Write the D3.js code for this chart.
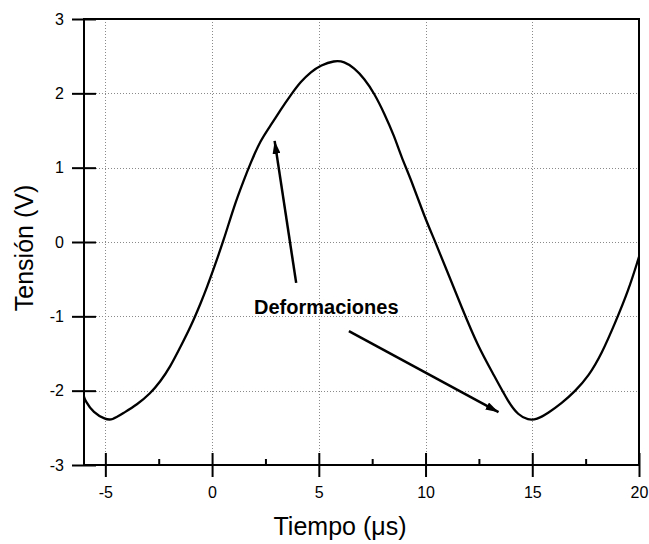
<!DOCTYPE html>
<html>
<head>
<meta charset="utf-8">
<script src="https://cdn.jsdelivr.net/npm/d3@7"></script>
<style>
  html, body { margin: 0; padding: 0; background: #fff; }
  svg { display: block; }
  text { font-family: "Liberation Sans", Arial, sans-serif; fill: #000; }
</style>
</head>
<body>
<script>
// ---- data ----
const timeUs = [-6.0, -5.95, -5.56, -5.0, -4.70, -4.15, -3.52, -2.90, -2.43, -1.96, -1.5, -1.0, -0.5, -0.23, 0.0, 0.55, 1.02, 1.49, 1.80, 2.27, 2.75, 3.21, 3.69, 4.16, 4.63, 5.10, 5.72, 6.19, 6.66, 7.13, 7.60, 8.07, 8.54, 8.86, 9.33, 9.95, 10.42, 11.05, 11.68, 12.46, 13.24, 13.87, 14.34, 14.81, 15.20, 15.75, 16.38, 17.0, 17.63, 18.26, 18.88, 19.51, 20.0];
const voltageV = [-2.08, -2.13, -2.30, -2.385, -2.40, -2.30, -2.19, -2.04, -1.88, -1.68, -1.42, -1.14, -0.80, -0.60, -0.42, 0.027, 0.475, 0.834, 1.06, 1.37, 1.57, 1.78, 1.98, 2.16, 2.29, 2.38, 2.44, 2.43, 2.34, 2.20, 2.00, 1.73, 1.42, 1.15, 0.834, 0.34, 0.027, -0.42, -0.87, -1.41, -1.81, -2.15, -2.33, -2.395, -2.39, -2.30, -2.17, -2.01, -1.81, -1.50, -1.09, -0.65, -0.20];
const xTicks = [-5, 0, 5, 10, 15, 20];
const xMinorTicks = [-2.5, 2.5, 7.5, 12.5, 17.5];
const yTicks = [-3, -2, -1, 0, 1, 2, 3];
const xTitle = "Tiempo (\u03bcs)";
const yTitle = "Tensión (V)";
const annotationText = "Deformaciones";
// annotation arrows in data units: [fromX, fromY, toX, toY]
const arrows = [
  [3.94, -0.55, 2.93, 1.36],
  [6.41, -1.20, 13.42, -2.29]
];
const annotationPos = [5.35, -0.97];

// ---- layout ----
const W = 649, H = 544;
const mLeft = 84, mRight = 639, mTop = 19, mBottom = 465;
const fmt = d => String(d);

const svg = d3.select("body").append("svg")
  .attr("width", W).attr("height", H);

const x = d3.scaleLinear().domain([-6, 20]).range([mLeft, mRight]);
const y = d3.scaleLinear().domain([-3, 3]).range([mBottom, mTop]);

// grid
const grid = svg.append("g").attr("stroke", "#8a8a8a").attr("stroke-width", 1)
  .attr("stroke-dasharray", "1,2");
grid.selectAll("line.vx").data(xTicks.filter(d => d < 20)).join("line")
  .attr("class", "vx")
  .attr("x1", d => Math.round(x(d)) + 0.5).attr("x2", d => Math.round(x(d)) + 0.5)
  .attr("y1", mTop).attr("y2", mBottom);
grid.selectAll("line.hy").data(yTicks.filter(d => d > -3 && d < 3)).join("line")
  .attr("class", "hy")
  .attr("y1", d => Math.round(y(d)) + 0.5).attr("y2", d => Math.round(y(d)) + 0.5)
  .attr("x1", mLeft).attr("x2", mRight);

// curve
const line = d3.line().x((d, i) => x(timeUs[i])).y(d => y(d)).curve(d3.curveBasis);
svg.append("path").datum(voltageV)
  .attr("d", line).attr("fill", "none").attr("stroke", "#000")
  .attr("stroke-width", 2.3).attr("stroke-linejoin", "round");

// frame
svg.append("rect").attr("x", mLeft).attr("y", mTop)
  .attr("width", mRight - mLeft).attr("height", mBottom - mTop)
  .attr("fill", "none").attr("stroke", "#000").attr("stroke-width", 2);

// y axis (ticks both sides)
const yAxis = d3.axisLeft(y).tickValues(yTicks).tickFormat(fmt)
  .tickSizeInner(12).tickSizeOuter(0).tickPadding(8);
const gy = svg.append("g").attr("transform", `translate(${mLeft},0)`).call(yAxis);
gy.select(".domain").remove();
gy.selectAll(".tick line").attr("x2", -12).attr("x1", 12).attr("stroke", "#000").attr("stroke-width", 2);
gy.selectAll(".tick text").attr("font-size", 16).attr("font-family", "Liberation Sans, Arial, sans-serif")
  .attr("x", -20);

// x axis
const xAxis = d3.axisBottom(x).tickValues(xTicks).tickFormat(fmt)
  .tickSizeInner(12).tickSizeOuter(0).tickPadding(10);
const gx = svg.append("g").attr("transform", `translate(0,${mBottom})`).call(xAxis);
gx.select(".domain").remove();
gx.selectAll(".tick line").attr("y1", -12).attr("y2", 12).attr("stroke", "#000").attr("stroke-width", 2);
gx.selectAll(".tick text").attr("font-size", 16).attr("font-family", "Liberation Sans, Arial, sans-serif")
  .attr("y", 22);

const xMinor = d3.axisBottom(x).tickValues(xMinorTicks).tickFormat("").tickSizeInner(6).tickSizeOuter(0);
const gxm = svg.append("g").attr("transform", `translate(0,${mBottom})`).call(xMinor);
gxm.select(".domain").remove();
gxm.selectAll(".tick line").attr("y1", 0).attr("y2", -6).attr("stroke", "#000").attr("stroke-width", 2);

// axis titles
svg.append("text").attr("x", 340).attr("y", 535).attr("text-anchor", "middle")
  .attr("font-size", 25).text(xTitle);
svg.append("text").attr("transform", "translate(33,248) rotate(-90)")
  .attr("text-anchor", "middle").attr("font-size", 25).text(yTitle);

// annotation
const defs = svg.append("defs");
defs.append("marker").attr("id", "ah").attr("viewBox", "0 0 13 8")
  .attr("refX", 13).attr("refY", 4).attr("markerWidth", 13).attr("markerHeight", 8)
  .attr("markerUnits", "userSpaceOnUse").attr("orient", "auto")
  .append("path").attr("d", "M0,0 L13,4 L0,8 Z").attr("fill", "#000");

svg.selectAll("line.arrow").data(arrows).join("line")
  .attr("class", "arrow")
  .attr("x1", d => x(d[0])).attr("y1", d => y(d[1]))
  .attr("x2", d => x(d[2])).attr("y2", d => y(d[3]))
  .attr("stroke", "#000").attr("stroke-width", 2.5)
  .attr("marker-end", "url(#ah)");

svg.append("text").attr("x", x(annotationPos[0])).attr("y", y(annotationPos[1]))
  .attr("text-anchor", "middle").attr("font-size", 20).attr("font-weight", "bold")
  .text(annotationText);
</script>
</body>
</html>
